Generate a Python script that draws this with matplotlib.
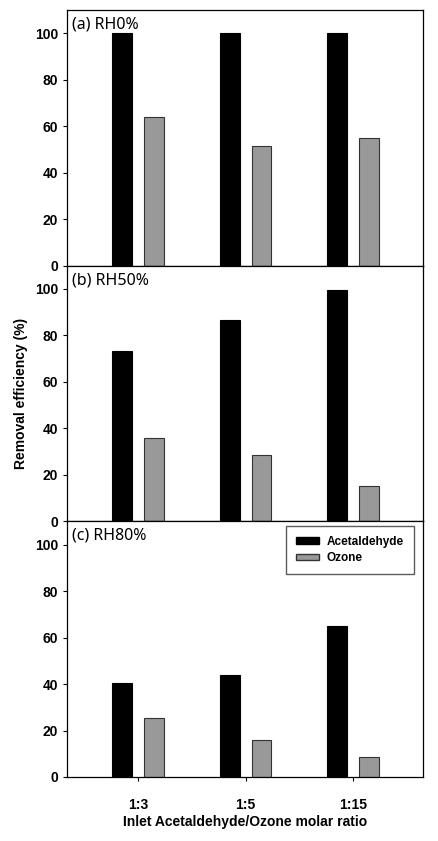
import numpy as np
import matplotlib.pyplot as plt
from matplotlib.patches import Patch

ratios = ['1:3', '1:5', '1:15']
panel_labels = ['(a) RH0%', '(b) RH50%', '(c) RH80%']
acetaldehyde = [[100, 100, 100], [73.5, 86.5, 99.5], [40.5, 44, 65]]
ozone = [[64, 51.5, 55], [36, 28.5, 15], [25.5, 16, 8.7]]

plt.rcParams['font.family'] = ['Liberation Sans', 'DejaVu Sans']

fig = plt.figure(figsize=(4.39, 8.41), dpi=100)
left, right = 67 / 439, 423 / 439
top, bottom = 1 - 10 / 841, 1 - 777 / 841
h = (top - bottom) / 3

x = np.arange(len(ratios))
w = 0.185
off = 0.148
axes = []
for i in range(3):
    ax = fig.add_axes([left, top - (i + 1) * h, right - left, h])
    ax.bar(x - off, acetaldehyde[i], width=w, color='black', edgecolor='black', linewidth=0.8)
    ax.bar(x + off, ozone[i], width=w, color='#999999', edgecolor='#333333', linewidth=0.8)
    ax.set_xlim(-0.66, 2.65)
    ax.set_ylim(0, 110)
    ax.set_yticks([0, 20, 40, 60, 80, 100])
    ax.set_xticks(x)
    ax.tick_params(axis='both', direction='out', length=3, width=0.8, labelsize=10)
    ax.tick_params(axis='x', pad=12)
    for lab in ax.get_yticklabels():
        lab.set_fontweight('bold')
    if i < 2:
        ax.set_xticklabels([])
    else:
        ax.set_xticklabels(ratios, fontweight='bold')
        ax.set_xlabel('Inlet Acetaldehyde/Ozone molar ratio', fontweight='bold', fontsize=10, labelpad=2)
    for s in ax.spines.values():
        s.set_linewidth(0.9)
    ax.text(0.015, 0.975, panel_labels[i], transform=ax.transAxes, ha='left', va='top',
            fontsize=11.5, family=['Noto Sans', 'DejaVu Sans'])
    axes.append(ax)

handles = [Patch(facecolor='black', edgecolor='black', label='Acetaldehyde'),
           Patch(facecolor='#999999', edgecolor='#333333', label='Ozone')]
axes[2].legend(handles=handles, loc='upper right', bbox_to_anchor=(0.99, 1.005),
               frameon=True, fancybox=False, edgecolor='#333333',
               handlelength=2.0, handleheight=0.5, borderpad=0.85, labelspacing=0.35,
               handletextpad=0.6, prop={'weight': 'bold', 'size': 8.5})

fig.text(21 / 439, 0.5 * (top + bottom), 'Removal efficiency (%)', rotation=90,
         ha='center', va='center', fontweight='bold', fontsize=10)

fig.savefig('out.png', dpi=100)
